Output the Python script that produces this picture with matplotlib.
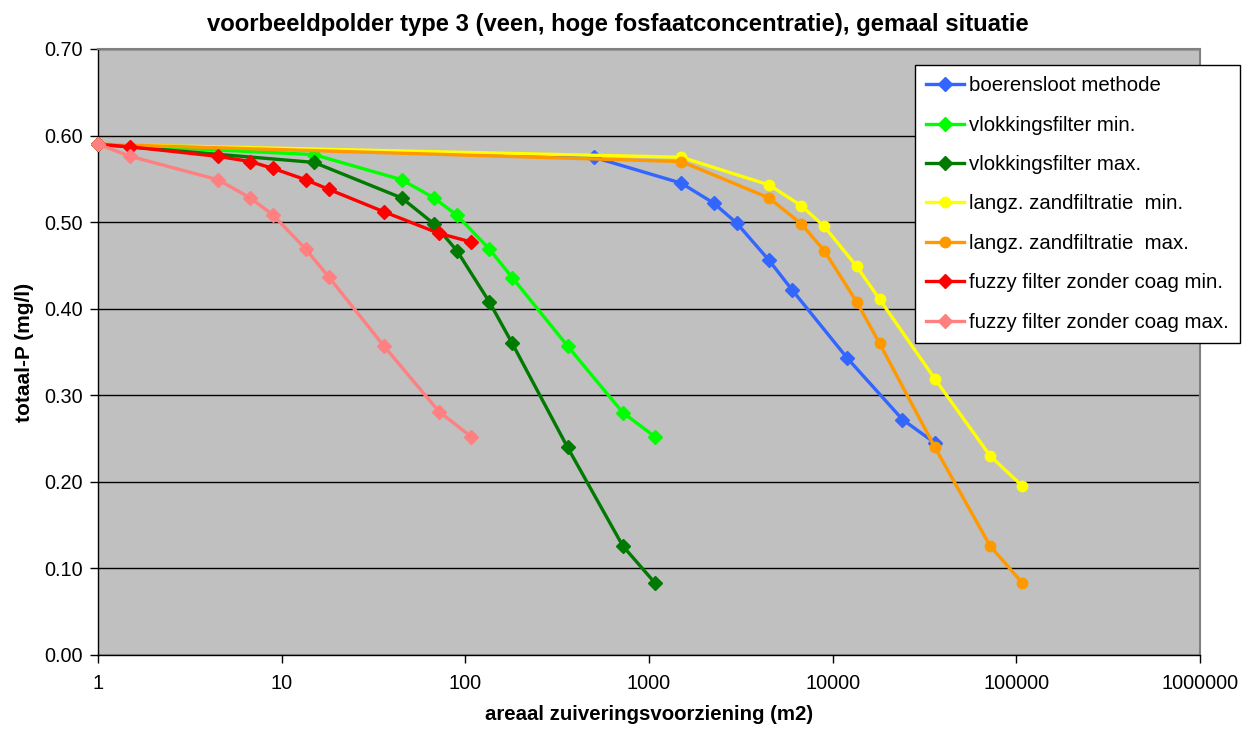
import matplotlib
matplotlib.use("Agg")
import matplotlib.pyplot as plt

# areaal (m2) en totaal-P (mg/l) per zuiveringsmethode
x_boer = [1, 500, 1500, 2250, 3000, 4500, 6000, 12000, 24000, 36000]
y_boer = [0.590, 0.575, 0.545, 0.522, 0.499, 0.456, 0.422, 0.343, 0.272, 0.245]

x_vlok = [1, 15, 45, 67.5, 90, 135, 180, 360, 720, 1080]
y_vlok_min = [0.590, 0.578, 0.549, 0.528, 0.508, 0.469, 0.436, 0.357, 0.280, 0.252]
y_vlok_max = [0.590, 0.569, 0.528, 0.498, 0.467, 0.408, 0.360, 0.240, 0.126, 0.083]

x_zand = [1, 1500, 4500, 6750, 9000, 13500, 18000, 36000, 72000, 108000]
y_zand_min = [0.590, 0.575, 0.543, 0.519, 0.495, 0.449, 0.411, 0.319, 0.230, 0.195]
y_zand_max = [0.590, 0.570, 0.528, 0.498, 0.467, 0.408, 0.360, 0.240, 0.126, 0.083]

x_fuzzy = [1, 1.5, 4.5, 6.75, 9, 13.5, 18, 36, 72, 108]
y_fuzzy_min = [0.590, 0.587, 0.576, 0.570, 0.562, 0.549, 0.538, 0.512, 0.487, 0.477]
y_fuzzy_max = [0.590, 0.576, 0.549, 0.528, 0.508, 0.469, 0.437, 0.357, 0.281, 0.252]

series = [
    (x_boer, y_boer, "boerensloot methode", "#3366FF", "D"),
    (x_vlok, y_vlok_min, "vlokkingsfilter min.", "#00FF00", "D"),
    (x_vlok, y_vlok_max, "vlokkingsfilter max.", "#007A00", "D"),
    (x_zand, y_zand_min, "langz. zandfiltratie  min.", "#FFFF00", "o"),
    (x_zand, y_zand_max, "langz. zandfiltratie  max.", "#FF9900", "o"),
    (x_fuzzy, y_fuzzy_min, "fuzzy filter zonder coag min.", "#FF0000", "D"),
    (x_fuzzy, y_fuzzy_max, "fuzzy filter zonder coag max.", "#FF8080", "D"),
]

xticks = [1, 10, 100, 1000, 10000, 100000, 1000000]
yticks = [0.0, 0.1, 0.2, 0.3, 0.4, 0.5, 0.6, 0.7]

plt.rcParams['font.family'] = ['Liberation Sans', 'DejaVu Sans']

fig = plt.figure(figsize=(12.56, 7.31), dpi=100)
ax = fig.add_axes([98/1256, 1-655/731, (1200-98)/1256, (655-49)/731])
ax.set_facecolor("#C0C0C0")

for xs, ys, lab, col, mk in series:
    ms = 7 if mk == "D" else 7.5
    ax.plot(xs, ys, color=col, lw=2.4, marker=mk, ms=ms, label=lab,
            markeredgecolor=col, clip_on=False, zorder=3)

ax.set_xscale("log")
ax.set_xlim(1, 1000000)
ax.set_ylim(0, 0.7)
ax.set_xticks(xticks)
ax.set_xticklabels([str(v) for v in xticks])
ax.minorticks_off()
ax.set_yticks(yticks)
ax.set_yticklabels(["%.2f" % v for v in yticks])
ax.yaxis.grid(True, color="black", lw=1)
ax.set_axisbelow(True)

for s in ["left", "bottom"]:
    ax.spines[s].set_color("black")
    ax.spines[s].set_linewidth(1)
for s in ["top", "right"]:
    ax.spines[s].set_color("#808080")
    ax.spines[s].set_linewidth(1.5)

ax.tick_params(axis="both", direction="out", length=6, width=1, labelsize=14.3, color="black")
ax.tick_params(axis="x", pad=8)
ax.tick_params(axis="y", pad=5)

# titel gecentreerd op de figuur, niet op de assen
fig.text(618/1256, 1-31/731,
         "voorbeeldpolder type 3 (veen, hoge fosfaatconcentratie), gemaal situatie",
         ha="center", va="baseline", fontsize=17.2, fontweight="bold")
ax.set_xlabel("areaal zuiveringsvoorziening (m2)", fontsize=14.7, fontweight="bold", labelpad=8)
ax.set_ylabel("totaal-P (mg/l)", fontsize=15, fontweight="bold", labelpad=7)

leg = ax.legend(loc="upper left", bbox_to_anchor=(915/1256, 1-65/731),
                bbox_transform=fig.transFigure, borderaxespad=0, fontsize=14.7,
                fancybox=False, framealpha=1, edgecolor="black", handlelength=1.85,
                labelspacing=1.0, handletextpad=0.25, borderpad=0.55)
leg.get_frame().set_linewidth(1)

fig.savefig("out.png", dpi=100, facecolor="white")
